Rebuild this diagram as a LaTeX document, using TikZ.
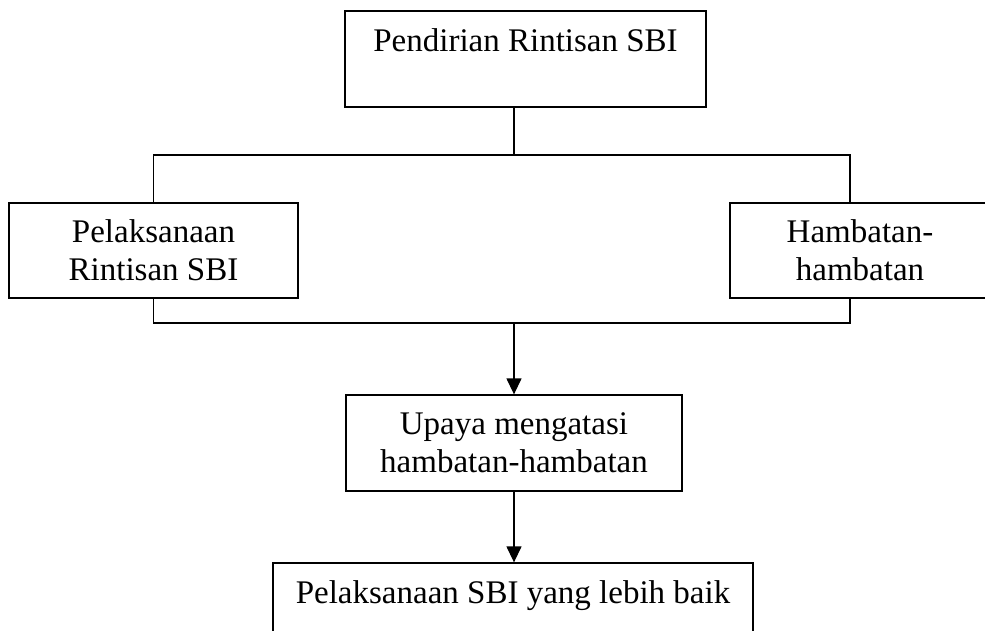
\documentclass[tikz,border=0pt]{standalone}
\usepackage{fontspec}
\setmainfont{Liberation Serif}
\usepackage{tikz}
\usetikzlibrary{arrows.meta,calc,positioning}
\tikzset{
  kotak/.style n args={2}{draw=black, line width=1.3pt, align=center, inner sep=0pt,
        font=\fontsize{33}{38}\selectfont, minimum width=#1, minimum height=#2},
  garis/.style={line width=1.3pt},
  panah/.style={-{Triangle[length=16pt, width=15pt]}, line width=1.3pt},
}
\begin{document}
\begin{tikzpicture}[x=1pt, y=-1pt]
  \useasboundingbox (0,0) rectangle (985,631);
  \clip (0,0) rectangle (985,631);
  \node[kotak={361pt}{96pt}] (pendirian) at (525.5,59){Pendirian Rintisan SBI\\\mbox{}};
  \node[kotak={289pt}{95pt}] (pelaksanaan) at (153.5,250.5){Pelaksanaan\\Rintisan SBI};
  \node[kotak={260pt}{95pt}] (hambatan) at (860,250.5){Hambatan-\\hambatan};
  \node[kotak={336pt}{96pt}] (upaya) at (514,443){Upaya mengatasi\\hambatan-hambatan};
  \node[kotak={480pt}{96pt}] (hasil) at (513,611){Pelaksanaan SBI yang lebih baik\\\mbox{}};
  % titik cabang
  \coordinate (atas) at (514,155);
  \coordinate (bawah) at (514,323);
  \draw[garis] (upaya.north |- pendirian.south) -- (atas);
  \draw[garis] (pelaksanaan.north) |- (atas) -| ([xshift=-10pt]hambatan.north);
  \draw[garis] (pelaksanaan.south) |- (bawah) -| ([xshift=-10pt]hambatan.south);
  \draw[panah] (bawah) -- (upaya.north);
  \draw[panah] (upaya.south) -- (upaya.south |- hasil.north);
\end{tikzpicture}
\end{document}
